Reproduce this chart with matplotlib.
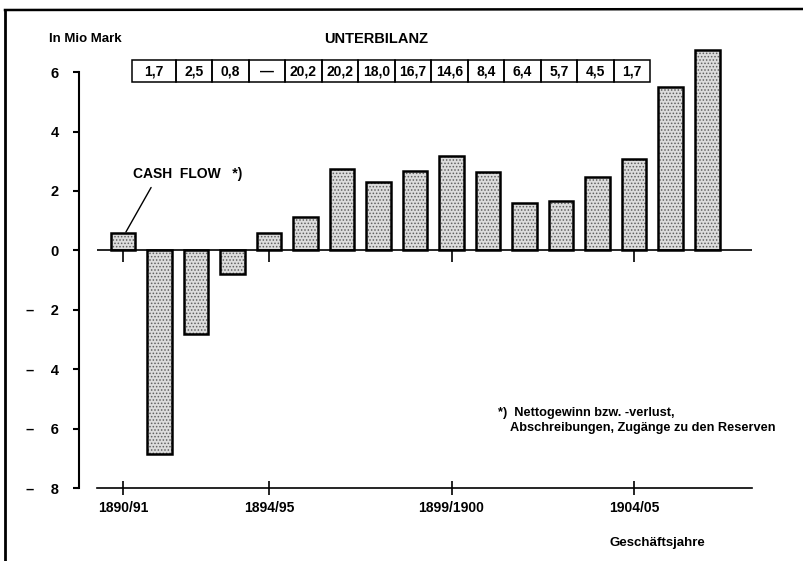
import matplotlib
matplotlib.use("Agg")
import matplotlib.pyplot as plt
from matplotlib.lines import Line2D
from matplotlib.patches import Rectangle

plt.rcParams['font.family'] = ['Liberation Sans Narrow', 'Liberation Sans', 'DejaVu Sans']
plt.rcParams['font.weight'] = 'bold'
plt.rcParams['hatch.linewidth'] = 0.7

# data
years = ['1890/91', '1891/92', '1892/93', '1893/94', '1894/95', '1895/96',
         '1896/97', '1897/98', '1898/99', '1899/1900', '1900/01', '1901/02',
         '1902/03', '1903/04', '1904/05', '1905/06', '1906/07']
cash_flow = [0.58, -6.85, -2.8, -0.8, 0.6, 1.12, 2.75, 2.3, 2.68, 3.19,
             2.64, 1.6, 1.65, 2.47, 3.08, 5.49, 6.75]
labelled_years = ['1890/91', '1894/95', '1899/1900', '1904/05']
unterbilanz = ['1,7', '2,5', '0,8', '—', '20,2', '20,2', '18,0', '16,7',
               '14,6', '8,4', '6,4', '5,7', '4,5', '1,7']
y_ticks = [6, 4, 2, 0, -2, -4, -6, -8]

W, H = 804, 561
fig = plt.figure(figsize=(W / 100, H / 100), dpi=100)

# axes placed in pixels: x 97..752, y 488 (=-8) .. 48 (=6.8)
ppu = 29.7
y_top = 6.8
top_px = 488 - (y_top + 8) * ppu
ax = fig.add_axes([97 / W, (H - 488) / H, (752 - 97) / W, (488 - top_px) / H])
ax.set_xlim(-0.712, 17.23)
ax.set_ylim(-8, y_top)

x = list(range(len(years)))

# stippled bars: dots first, outline on top
ax.bar(x, cash_flow, width=0.68, color='#dcdcdc', edgecolor='#606060',
       hatch='.....', linewidth=0, zorder=2)
ax.bar(x, cash_flow, width=0.68, color='none', edgecolor='black',
       linewidth=1.8, zorder=3)

ax.axhline(0, color='black', linewidth=1.2, zorder=4)

# axes styling
for s in ['top', 'right']:
    ax.spines[s].set_visible(False)
ax.spines['left'].set_position(('outward', 13))
ax.spines['left'].set_bounds(-8, 6)
ax.spines['left'].set_linewidth(1.5)
ax.spines['bottom'].set_linewidth(1.2)

ax.set_yticks(y_ticks)
ax.set_yticklabels([str(v) if v >= 0 else '–    ' + str(-v) for v in y_ticks])
ax.tick_params(axis='y', direction='out', length=4.5, width=1.5, pad=10,
               labelsize=10.5)

tick_pos = [years.index(y) for y in labelled_years]
ax.set_xticks(tick_pos)
ax.set_xticklabels(labelled_years)
ax.tick_params(axis='x', direction='inout', length=10, width=1.2, pad=4,
               labelsize=10)

# little marks under the zero line
ax.vlines(tick_pos, -0.4, 0, color='black', linewidth=1.2, zorder=4)

# Unterbilanz table above the bars
cell_edges = [0.25] + [i + 0.44 for i in range(1, len(unterbilanz) + 1)]
for i, val in enumerate(unterbilanz):
    x0, x1 = cell_edges[i], cell_edges[i + 1]
    ax.add_patch(Rectangle((x0, 5.66), x1 - x0, 0.75, fill=False,
                           edgecolor='black', linewidth=1.1, zorder=5))
    ax.text((x0 + x1) / 2, 6.03, val, ha='center', va='center', fontsize=10,
            zorder=6)

ax.annotate('CASH  FLOW   *)', xy=(0.08, 0.62), xytext=(0.27, 2.57),
            ha='left', va='center', fontsize=10,
            arrowprops=dict(arrowstyle='-', color='black', lw=1,
                            shrinkA=3, shrinkB=0, relpos=(0.2, 0)))


def px(xp, yp):
    return xp / W, 1 - yp / H


fig.text(*px(49, 39), 'In Mio Mark', ha='left', va='center', fontsize=9.5)
fig.text(*px(376, 39), 'UNTERBILANZ', ha='center', va='center', fontsize=10.5)
fig.text(*px(498, 413), '*)  Nettogewinn bzw. -verlust,', ha='left',
         va='center', fontsize=9.2)
fig.text(*px(510, 428), 'Abschreibungen, Zugänge zu den Reserven', ha='left',
         va='center', fontsize=9.2)
fig.text(*px(610, 543), 'Geschäftsjahre', ha='left', va='center', fontsize=9.5)

# frame of the original page
fig.add_artist(Line2D([5 / W, 5 / W], [1 - 10 / H, 0], color='black', lw=2))
fig.add_artist(Line2D([5 / W, 1], [1 - 10 / H, 1 - 9 / H], color='black', lw=1.8))

fig.savefig('out.png', dpi=100)
